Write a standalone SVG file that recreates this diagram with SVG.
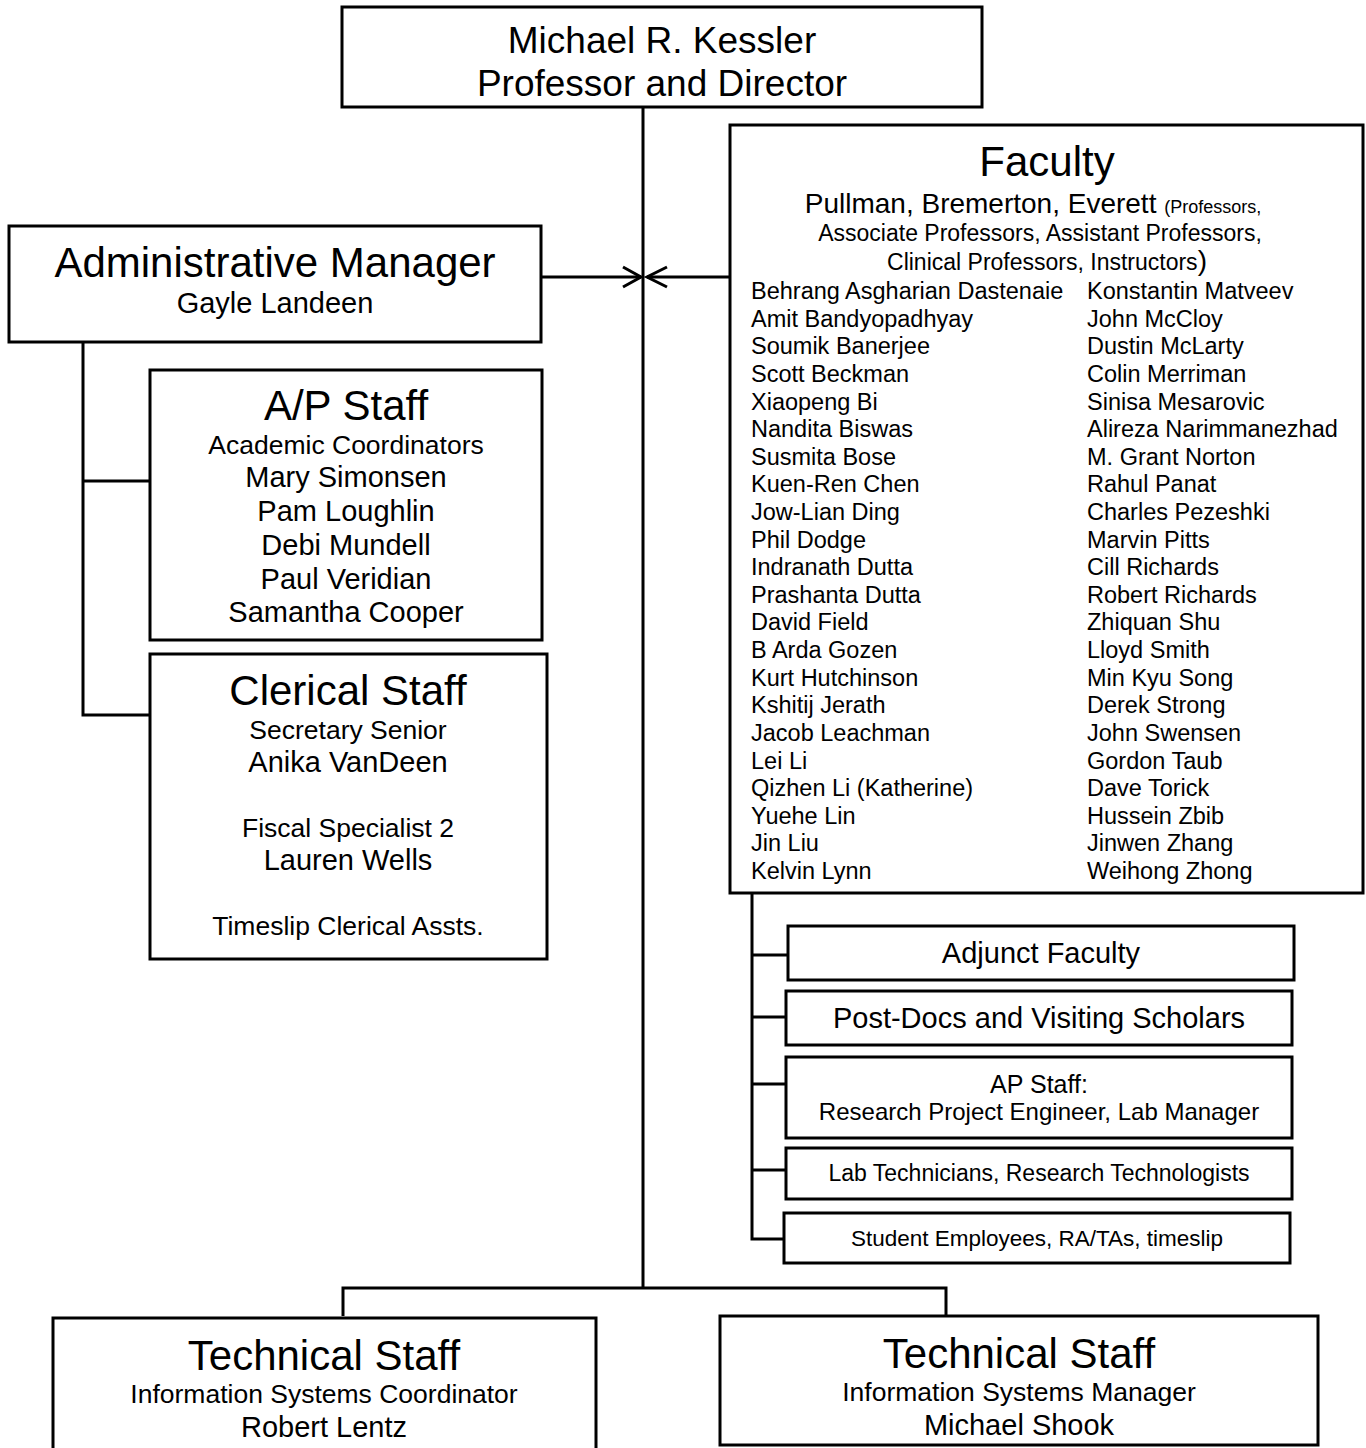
<svg xmlns="http://www.w3.org/2000/svg" width="1366" height="1448" viewBox="0 0 1366 1448">
<style>
  text { font-family: "Liberation Sans", Arial, sans-serif; fill: #000; text-anchor: middle; }
  .box { fill: #fff; stroke: #000; stroke-width: 3; }
  .ln { fill: none; stroke: #000; stroke-width: 3; }
  .t42 { font-size: 42px; }
  .t37 { font-size: 37px; }
  .t29 { font-size: 29px; }
  .t26 { font-size: 26.5px; }
  .t23 { font-size: 23px; }
  .nm { font-size: 23.5px; text-anchor: start; }
</style>
<rect width="1366" height="1448" fill="#fff"/>

<g id="connectors">
  <line class="ln" x1="643" y1="107" x2="643" y2="1288"/>
  <line class="ln" x1="541" y1="277" x2="641" y2="277"/>
  <polyline class="ln" points="623,267 641,277 623,287"/>
  <line class="ln" x1="730" y1="277" x2="647" y2="277"/>
  <polyline class="ln" points="667,267 647,277 667,287"/>
  <polyline class="ln" points="83,342 83,715 150,715"/>
  <line class="ln" x1="83" y1="481" x2="150" y2="481"/>
  <polyline class="ln" points="752,893 752,1239 784,1239"/>
  <line class="ln" x1="752" y1="955" x2="788" y2="955"/>
  <line class="ln" x1="752" y1="1017" x2="786" y2="1017"/>
  <line class="ln" x1="752" y1="1084" x2="786" y2="1084"/>
  <line class="ln" x1="752" y1="1170" x2="786" y2="1170"/>
  <polyline class="ln" points="343,1316 343,1288 946,1288 946,1316"/>
</g>

<g id="director">
  <rect class="box" x="342" y="7" width="640" height="100"/>
  <text class="t37" x="662" y="53">Michael R. Kessler</text>
  <text class="t37" x="662" y="96">Professor and Director</text>
</g>

<g id="admin-manager">
  <rect class="box" x="9" y="226" width="532" height="116"/>
  <text class="t42" x="275" y="277">Administrative Manager</text>
  <text class="t29" x="275" y="313">Gayle Landeen</text>
</g>

<g id="ap-staff">
  <rect class="box" x="150" y="370" width="392" height="270"/>
  <text class="t42" x="346" y="420">A/P Staff</text>
  <text class="t26" x="346" y="454">Academic Coordinators</text>
  <text class="t29" x="346" y="487">Mary Simonsen</text>
  <text class="t29" x="346" y="521">Pam Loughlin</text>
  <text class="t29" x="346" y="555">Debi Mundell</text>
  <text class="t29" x="346" y="589">Paul Veridian</text>
  <text class="t29" x="346" y="622">Samantha Cooper</text>
</g>

<g id="clerical-staff">
  <rect class="box" x="150" y="654" width="397" height="305"/>
  <text class="t42" x="348" y="705">Clerical Staff</text>
  <text class="t26" x="348" y="739">Secretary Senior</text>
  <text class="t29" x="348" y="772">Anika VanDeen</text>
  <text class="t26" x="348" y="837">Fiscal Specialist 2</text>
  <text class="t29" x="348" y="870">Lauren Wells</text>
  <text class="t26" x="348" y="935">Timeslip Clerical Assts.</text>
</g>

<g id="faculty">
  <rect class="box" x="730" y="125" width="633" height="768"/>
  <text class="t42" x="1047" y="176">Faculty</text>
  <text x="1033" y="213" style="font-size:28px">Pullman, Bremerton, Everett <tspan style="font-size:18px">(Professors,</tspan></text>
  <text class="t23" x="1040" y="241">Associate Professors, Assistant Professors,</text>
  <text class="t23" x="1047" y="270">Clinical Professors, Instructors<tspan style="font-size:28px">)</tspan></text>
  <text class="nm" x="751" y="299">Behrang Asgharian Dastenaie</text>
  <text class="nm" x="751" y="326.6">Amit Bandyopadhyay</text>
  <text class="nm" x="751" y="354.2">Soumik Banerjee</text>
  <text class="nm" x="751" y="381.9">Scott Beckman</text>
  <text class="nm" x="751" y="409.5">Xiaopeng Bi</text>
  <text class="nm" x="751" y="437.1">Nandita Biswas</text>
  <text class="nm" x="751" y="464.7">Susmita Bose</text>
  <text class="nm" x="751" y="492.3">Kuen-Ren Chen</text>
  <text class="nm" x="751" y="520">Jow-Lian Ding</text>
  <text class="nm" x="751" y="547.6">Phil Dodge</text>
  <text class="nm" x="751" y="575.2">Indranath Dutta</text>
  <text class="nm" x="751" y="602.8">Prashanta Dutta</text>
  <text class="nm" x="751" y="630.4">David Field</text>
  <text class="nm" x="751" y="658">B Arda Gozen</text>
  <text class="nm" x="751" y="685.7">Kurt Hutchinson</text>
  <text class="nm" x="751" y="713.3">Kshitij Jerath</text>
  <text class="nm" x="751" y="740.9">Jacob Leachman</text>
  <text class="nm" x="751" y="768.5">Lei Li</text>
  <text class="nm" x="751" y="796.1">Qizhen Li (Katherine)</text>
  <text class="nm" x="751" y="823.8">Yuehe Lin</text>
  <text class="nm" x="751" y="851.4">Jin Liu</text>
  <text class="nm" x="751" y="879">Kelvin Lynn</text>
  <text class="nm" x="1087" y="299">Konstantin Matveev</text>
  <text class="nm" x="1087" y="326.6">John McCloy</text>
  <text class="nm" x="1087" y="354.2">Dustin McLarty</text>
  <text class="nm" x="1087" y="381.9">Colin Merriman</text>
  <text class="nm" x="1087" y="409.5">Sinisa Mesarovic</text>
  <text class="nm" x="1087" y="437.1">Alireza Narimmanezhad</text>
  <text class="nm" x="1087" y="464.7">M. Grant Norton</text>
  <text class="nm" x="1087" y="492.3">Rahul Panat</text>
  <text class="nm" x="1087" y="520">Charles Pezeshki</text>
  <text class="nm" x="1087" y="547.6">Marvin Pitts</text>
  <text class="nm" x="1087" y="575.2">Cill Richards</text>
  <text class="nm" x="1087" y="602.8">Robert Richards</text>
  <text class="nm" x="1087" y="630.4">Zhiquan Shu</text>
  <text class="nm" x="1087" y="658">Lloyd Smith</text>
  <text class="nm" x="1087" y="685.7">Min Kyu Song</text>
  <text class="nm" x="1087" y="713.3">Derek Strong</text>
  <text class="nm" x="1087" y="740.9">John Swensen</text>
  <text class="nm" x="1087" y="768.5">Gordon Taub</text>
  <text class="nm" x="1087" y="796.1">Dave Torick</text>
  <text class="nm" x="1087" y="823.8">Hussein Zbib</text>
  <text class="nm" x="1087" y="851.4">Jinwen Zhang</text>
  <text class="nm" x="1087" y="879">Weihong Zhong</text>
</g>

<g id="adjunct-faculty">
  <rect class="box" x="788" y="926" width="506" height="54"/>
  <text class="t29" x="1041" y="963">Adjunct Faculty</text>
</g>
<g id="postdocs">
  <rect class="box" x="786" y="991" width="506" height="54"/>
  <text class="t29" x="1039" y="1028">Post-Docs and Visiting Scholars</text>
</g>
<g id="ap-staff-research">
  <rect class="box" x="786" y="1057" width="506" height="81"/>
  <text x="1039" y="1093" style="font-size:25px">AP Staff:</text>
  <text x="1039" y="1120" style="font-size:24px">Research Project Engineer, Lab Manager</text>
</g>
<g id="lab-technicians">
  <rect class="box" x="786" y="1148" width="506" height="51"/>
  <text class="t23" x="1039" y="1181">Lab Technicians, Research Technologists</text>
</g>
<g id="student-employees">
  <rect class="box" x="784" y="1213" width="506" height="50"/>
  <text x="1037" y="1246" style="font-size:22.5px">Student Employees, RA/TAs, timeslip</text>
</g>

<g id="technical-staff-1">
  <rect class="box" x="53" y="1318" width="543" height="140"/>
  <text class="t42" x="324" y="1370">Technical Staff</text>
  <text class="t26" x="324" y="1403">Information Systems Coordinator</text>
  <text class="t29" x="324" y="1437">Robert Lentz</text>
</g>
<g id="technical-staff-2">
  <rect class="box" x="720" y="1316" width="598" height="129"/>
  <text class="t42" x="1019" y="1368">Technical Staff</text>
  <text class="t26" x="1019" y="1401">Information Systems Manager</text>
  <text class="t29" x="1019" y="1435">Michael Shook</text>
</g>
</svg>
